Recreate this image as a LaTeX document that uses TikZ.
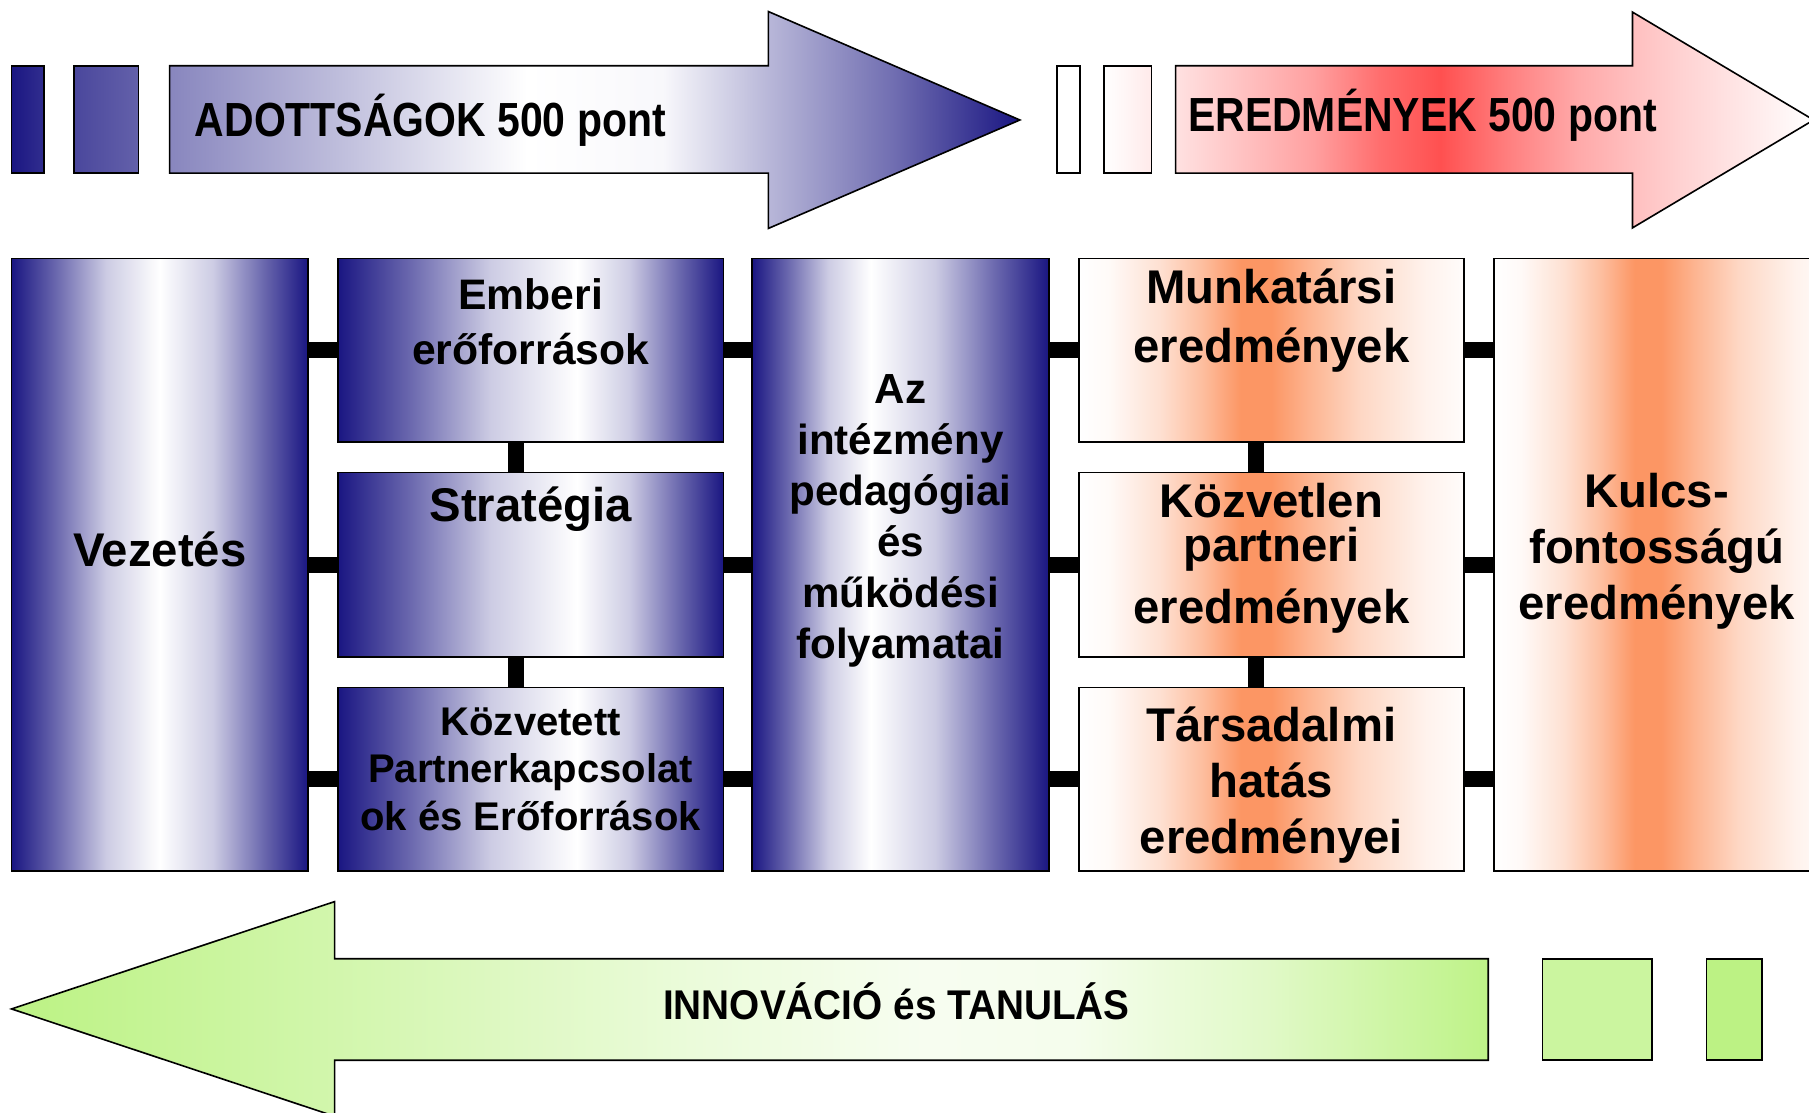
\documentclass[tikz,border=0pt]{standalone}
\usepackage{fontspec}
\setmainfont{Liberation Sans}
\newfontfamily\arrowfontA[FakeStretch=0.855]{Liberation Sans Bold}
\newfontfamily\arrowfontG[FakeStretch=0.933]{Liberation Sans Bold}
\definecolor{navyc}{RGB}{26,22,130}
\definecolor{redc}{RGB}{255,80,80}
\definecolor{orangec}{RGB}{252,150,100}
\definecolor{greenc}{RGB}{188,242,132}
\pgfdeclarehorizontalshading{vezshade}{100bp}{color(0bp)=(navyc); color(25bp)=(navyc); color(32.5bp)=(navyc!65!white); color(41bp)=(navyc!22!white); color(50bp)=(white); color(59bp)=(navyc!22!white); color(67.5bp)=(navyc!65!white); color(75bp)=(navyc); color(100bp)=(navyc)}
\pgfdeclarehorizontalshading{colshade}{100bp}{color(0bp)=(navyc); color(25bp)=(navyc); color(34.3bp)=(navyc!65!white); color(44.8bp)=(navyc!22!white); color(56bp)=(white); color(62.8bp)=(navyc!22!white); color(69.3bp)=(navyc!65!white); color(75bp)=(navyc); color(100bp)=(navyc)}
\pgfdeclarehorizontalshading{azshade}{100bp}{color(0bp)=(navyc); color(25bp)=(navyc); color(31bp)=(navyc!65!white); color(37.8bp)=(navyc!22!white); color(45bp)=(white); color(55.8bp)=(navyc!22!white); color(66bp)=(navyc!65!white); color(75bp)=(navyc); color(100bp)=(navyc)}
\pgfdeclarehorizontalshading{adshade}{100bp}{color(0bp)=(navyc!52!white); color(25bp)=(navyc!52!white); color(35bp)=(navyc!28!white); color(46bp)=(white); color(54bp)=(navyc!3!white); color(60bp)=(navyc!30!white); color(67.5bp)=(navyc!62!white); color(75bp)=(navyc); color(100bp)=(navyc)}
\pgfdeclarehorizontalshading{redshade}{100bp}{color(0bp)=(redc!17!white); color(25bp)=(redc!17!white); color(35.75bp)=(redc!54!white); color(41bp)=(redc!83!white); color(45.75bp)=(redc); color(51.5bp)=(redc!71!white); color(56.5bp)=(redc!49!white); color(64.5bp)=(redc!26!white); color(75bp)=(white); color(100bp)=(white)}
\pgfdeclarehorizontalshading{orshade}{100bp}{color(0bp)=(white); color(25bp)=(white); color(29bp)=(orangec!5!white); color(35.5bp)=(orangec!29!white); color(41bp)=(orangec!62!white); color(46bp)=(orangec); color(50bp)=(orangec); color(55bp)=(orangec!71!white); color(61.5bp)=(orangec!38!white); color(70bp)=(orangec!12!white); color(75bp)=(orangec!3!white); color(100bp)=(orangec!3!white)}
\pgfdeclarehorizontalshading{grshade}{100bp}{color(0bp)=(greenc); color(25bp)=(greenc); color(36bp)=(greenc!67!white); color(48bp)=(greenc!30!white); color(56bp)=(greenc!12!white); color(61bp)=(greenc!15!white); color(67.5bp)=(greenc!45!white); color(75bp)=(greenc!97!white); color(100bp)=(greenc!97!white)}
\begin{document}
\begin{tikzpicture}[x=1pt,y=-1pt,
  bx/.style={draw=black, line width=1.4pt, rectangle, inner sep=0pt, outer sep=0pt, anchor=north west},
  bluebox/.style={bx, shade, shading=#1},
  orbox/.style={bx, shade, shading=orshade},
  arr/.style={draw=black, line width=1.4pt, line join=miter},
  bar/.style={line width=14pt, line cap=butt, draw=black},
  txt/.style={inner sep=0pt, outer sep=0pt, anchor=base, align=center, text=black},
  lab/.style={inner sep=0pt, outer sep=0pt, anchor=base, text=black}]
\useasboundingbox (0,0) rectangle (1568,964);
\clip (0,0) rectangle (1568,964);

% top row
\node[bx, minimum width=28pt, minimum height=93pt, left color=navyc, right color=navyc!90!white] (ra) at (10,57) {};
\node[bx, minimum width=56pt, minimum height=93pt, left color=navyc!79!white, right color=navyc!68!white] (rb) at (64,57) {};
\shadedraw[arr, shading=adshade] (147,57) -- (666,57) -- (666,10) -- (884,104) -- (666,198) -- (666,150) -- (147,150) -- cycle;
\node[lab, font=\arrowfontA\fontsize{41.5}{41.5}\selectfont] (adt) at (373,118.5) {ADOTTSÁGOK 500 pont};

\node[bx, minimum width=20pt, minimum height=93pt, fill=white] (rc) at (916,57) {};
\node[bx, minimum width=41pt, minimum height=93pt, left color=white, right color=redc!12!white] (rd) at (957,57) {};
\shadedraw[arr, shading=redshade] (1019,57) -- (1415,57) -- (1415,10.5) -- (1572,104) -- (1415,197.5) -- (1415,150) -- (1019,150) -- cycle;
\node[lab, font=\arrowfontA\fontsize{41.5}{41.5}\selectfont] (ered) at (1233,114) {EREDMÉNYEK 500 pont};

% boxes
\node[bluebox=vezshade, minimum width=257pt, minimum height=531pt] (vez) at (10,224) {};
\node[bluebox=colshade, minimum width=334pt, minimum height=159pt] (emb) at (293,224) {};
\node[bluebox=colshade, minimum width=334pt, minimum height=160pt] (str) at (293,409.5) {};
\node[bluebox=colshade, minimum width=334pt, minimum height=159pt] (kozt) at (293,596) {};
\node[bluebox=azshade, minimum width=257pt, minimum height=531pt] (az) at (652,224) {};
\node[orbox, minimum width=334pt, minimum height=159pt] (munk) at (935,224) {};
\node[orbox, minimum width=334pt, minimum height=160pt] (kozv) at (935,409.5) {};
\node[orbox, minimum width=334pt, minimum height=159pt] (tars) at (935,596) {};
\node[orbox, minimum width=290pt, minimum height=531pt] (kulcs) at (1295,224) {};

% connectors
\foreach \b in {emb,str,kozt}{
  \draw[bar] (\b.west) -- (\b.west -| vez.east);
  \draw[bar] (\b.east) -- (\b.east -| az.west);
}
\foreach \b in {munk,kozv,tars}{
  \draw[bar] (\b.west) -- (\b.west -| az.east);
  \draw[bar] (\b.east) -- (\b.east -| kulcs.west);
}
\draw[bar] ([xshift=-13pt]emb.south) -- ([xshift=-13pt]str.north);
\draw[bar] ([xshift=-13pt]str.south) -- ([xshift=-13pt]kozt.north);
\draw[bar] ([xshift=-13pt]munk.south) -- ([xshift=-13pt]kozv.north);
\draw[bar] ([xshift=-13pt]kozv.south) -- ([xshift=-13pt]tars.north);

% box texts (anchor = baseline of the last line)
\node[txt, font=\bfseries\fontsize{41}{49}\selectfont] (vez-t) at (138.5,491) {Vezetés};
\node[txt, font=\bfseries\fontsize{37}{48}\selectfont] (emb-t) at (460,316) {Emberi\\erőforrások};
\node[txt, font=\bfseries\fontsize{41}{49}\selectfont] (str-t) at (460,452) {Stratégia};
\node[txt, font=\bfseries\fontsize{34.7}{41.2}\selectfont] (kozt-t) at (460,719.5) {Közvetett\\Partnerkapcsolat\\ok és Erőforrások};
\node[txt, font=\bfseries\fontsize{36.5}{44.2}\selectfont] (az-t) at (780.5,570.7) {Az\\intézmény\\pedagógiai\\és\\működési\\folyamatai};
\node[txt, font=\bfseries\fontsize{41}{51}\selectfont] (munk-t) at (1102,314) {Munkatársi\\eredmények};
\node[txt, font=\bfseries\fontsize{41}{46}\selectfont] (kozv-t) at (1102,540.6) {Közvetlen\\[-7.6pt]partneri\\[7.6pt]eredmények};
\node[txt, font=\bfseries\fontsize{41}{48.5}\selectfont] (tars-t) at (1102,740) {Társadalmi\\hatás\\eredményei};
\node[txt, font=\bfseries\fontsize{41}{48.5}\selectfont] (kulcs-t) at (1436,537) {Kulcs-\\fontosságú\\eredmények};

% bottom arrow
\shadedraw[arr, shading=grshade] (10,874.5) -- (290,781.5) -- (290,831) -- (1290,831) -- (1290,919) -- (290,919) -- (290,967.5) -- cycle;
\node[lab, font=\arrowfontG\fontsize{36}{36}\selectfont] (inn) at (777,884) {INNOVÁCIÓ és TANULÁS};
\node[bx, minimum width=95pt, minimum height=88pt, fill=greenc!78!white] (ga) at (1337,831) {};
\node[bx, minimum width=48pt, minimum height=88pt, fill=greenc] (gb) at (1479,831) {};
\end{tikzpicture}
\end{document}
